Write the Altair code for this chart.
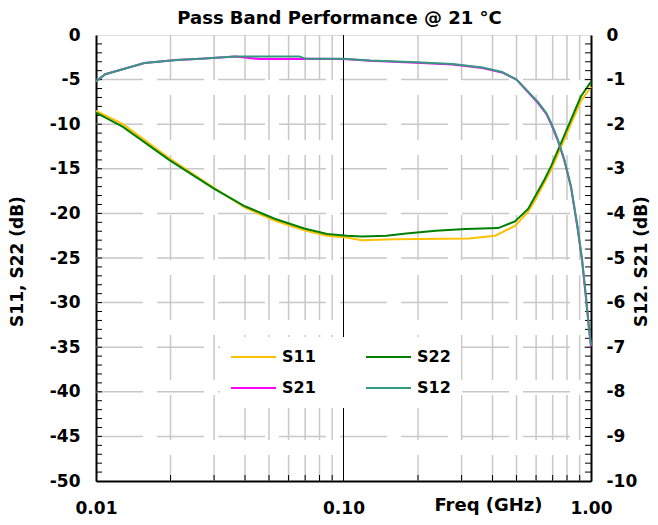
import altair as alt
import pandas as pd

FONT = "DejaVu Sans"

# ---- data ----
s11_f = [0.01, 0.01285, 0.01974, 0.02985, 0.03997, 0.0527, 0.0694, 0.0859, 0.1032, 0.1186,
         0.1606, 0.320, 0.410, 0.4928, 0.557, 0.592, 0.690, 0.830, 0.910, 0.991, 1.0]
s11_db = [-8.5, -10.0, -13.8, -17.1, -19.35, -20.8, -21.9, -22.5, -22.7, -23.0,
          -22.9, -22.8, -22.5, -21.4, -19.8, -18.6, -15.1, -10.0, -7.4, -6.0, -5.8]

s22_f = [0.01, 0.01285, 0.01974, 0.02985, 0.03997, 0.0527, 0.0694, 0.0859, 0.1032, 0.1186,
         0.1492, 0.1792, 0.2362, 0.311, 0.4215, 0.4928, 0.557, 0.592, 0.649, 0.690, 0.752,
         0.830, 0.910, 0.991, 1.0]
s22_db = [-8.7, -10.3, -14.0, -17.2, -19.2, -20.6, -21.7, -22.3, -22.5, -22.6,
          -22.5, -22.25, -21.95, -21.75, -21.65, -20.9, -19.5, -18.2, -16.2, -14.7, -12.3,
          -9.5, -6.9, -5.4, -5.2]

s21_f = [0.01, 0.0109, 0.0157, 0.0211, 0.0265, 0.0365, 0.046, 0.0664, 0.070, 0.10, 0.128,
         0.197, 0.276, 0.364, 0.437, 0.50, 0.54, 0.61, 0.66, 0.69, 0.734, 0.78, 0.83,
         0.882, 0.92, 0.953, 0.982, 1.0]
s21_db = [-1.04, -0.88, -0.63, -0.56, -0.53, -0.48, -0.54, -0.54, -0.53, -0.54, -0.58,
          -0.62, -0.66, -0.74, -0.84, -1.0, -1.2, -1.52, -1.77, -1.99, -2.36, -2.81, -3.41,
          -4.32, -5.05, -5.86, -6.6, -6.98]

s12_f = [0.01, 0.0109, 0.0157, 0.0211, 0.0265, 0.0365, 0.0664, 0.070, 0.10, 0.128,
         0.197, 0.276, 0.364, 0.437, 0.50, 0.54, 0.61, 0.66, 0.69, 0.734, 0.78, 0.83,
         0.882, 0.92, 0.953, 0.982, 1.0]
s12_db = [-1.04, -0.88, -0.63, -0.56, -0.53, -0.48, -0.48, -0.53, -0.53, -0.57,
          -0.61, -0.65, -0.73, -0.83, -1.0, -1.19, -1.5, -1.75, -1.97, -2.34, -2.79, -3.39,
          -4.3, -5.03, -5.84, -6.58, -6.96]

# legend lays entries out column by column: S11, S21 | S22, S12
series_order = ["S11", "S21", "S22", "S12"]
series_colors = ["#FFC000", "#FF00FF", "#008000", "#339980"]

x_ticks = [0.01, 0.1, 1.0]
x_minor = [0.02, 0.03, 0.04, 0.05, 0.06, 0.07, 0.08, 0.09,
           0.2, 0.3, 0.4, 0.5, 0.6, 0.7, 0.8, 0.9]
x_major_line = [0.1]
left_ticks = list(range(-50, 1, 5))
left_grid = [-45, -40, -35, -30, -25, -20, -15, -10, -5]
left_minor = list(range(-49, 0))
right_ticks = list(range(-10, 1))
right_minor = [round(-0.2 * i, 1) for i in range(1, 50)]

W, H = 495, 446

def df(f, v, name):
    return pd.DataFrame({"f": f, "db": v, "series": name})

x_scale = alt.Scale(type="log", domain=[0.01, 1.0], nice=False)
yl_scale = alt.Scale(domain=[-50, 0], nice=False, zero=False)
yr_scale = alt.Scale(domain=[-10, 0], nice=False, zero=False)
color_scale = alt.Scale(domain=series_order, range=series_colors)

grid_color = "#c8c8c8"

x_axis = alt.Axis(
    values=x_ticks, format=".2f", labelFont=FONT, labelFontSize=17, labelFontWeight="bold",
    labelColor="black", labelPadding=19, ticks=False, tickSize=0, domainColor="black",
    domainWidth=2, grid=False, labelFlush=False, labelOverlap=False,
    title="Freq (GHz)", titleFont=FONT, titleFontSize=18, titleFontWeight="bold",
    titleColor="black", titleX=392, titleY=29, titleAlign="center", titleBaseline="alphabetic",
)

yl_axis = alt.Axis(
    values=left_ticks, labelExpr="'' + datum.value", labelFont=FONT, labelFontSize=17,
    labelFontWeight="bold", labelColor="black", labelPadding=16, ticks=False, tickSize=0,
    domainColor="black", domainWidth=2, grid=False, labelFlush=False, labelOverlap=False,
    title="S11, S22 (dB)", titleFont=FONT, titleFontSize=17, titleFontWeight="bold",
    titleColor="black", titleX=-79, titleY=226, titleAngle=270, titleAlign="center",
    titleBaseline="middle",
)

yr_axis = alt.Axis(
    orient="right", values=right_ticks, labelExpr="'' + datum.value", labelFont=FONT,
    labelFontSize=17, labelFontWeight="bold", labelColor="black", labelPadding=15,
    ticks=False, tickSize=0, domainColor="black", domainWidth=2, grid=False,
    labelFlush=False, labelOverlap=False,
    title="S12. S21 (dB)", titleFont=FONT, titleFontSize=17, titleFontWeight="bold",
    titleColor="black", titleX=50, titleY=226, titleAngle=270, titleAlign="center",
    titleBaseline="middle",
)

legend = alt.Legend(
    orient="none", legendX=124, legendY=302, columns=2, title=None,
    symbolType="stroke", symbolSize=2025, symbolStrokeWidth=2, clipHeight=20,
    labelFont=FONT, labelFontSize=16, labelFontWeight="bold", labelColor="black",
    labelOffset=5, columnPadding=49, rowPadding=11, padding=10, fillColor="white",
)

X = lambda field: alt.X(field, scale=x_scale, axis=x_axis)
YL = lambda field: alt.Y(field, scale=yl_scale, axis=yl_axis)
YR = lambda field: alt.Y(field, scale=yr_scale, axis=yr_axis)

grid_v = alt.Chart(pd.DataFrame({"f": x_minor})).mark_rule(
    color=grid_color, strokeWidth=1.5, strokeDash=[45, 15]
).encode(x=X("f:Q"), y=alt.value(0), y2=alt.value(H))

grid_h = alt.Chart(pd.DataFrame({"db": left_grid})).mark_rule(
    color=grid_color, strokeWidth=1.5, strokeDash=[47, 14]
).encode(y=YL("db:Q"), x=alt.value(0), x2=alt.value(W))

major_v = alt.Chart(pd.DataFrame({"f": x_major_line})).mark_rule(
    color="black", strokeWidth=1
).encode(x=X("f:Q"), y=alt.value(0), y2=alt.value(H))

ticks_l = alt.Chart(pd.DataFrame({"db": left_minor})).mark_rule(
    color="black", strokeWidth=1
).encode(y=YL("db:Q"), x=alt.value(0), x2=alt.value(6))

ticks_b = alt.Chart(pd.DataFrame({"f": x_minor})).mark_rule(
    color="black", strokeWidth=1
).encode(x=X("f:Q"), y=alt.value(H - 6), y2=alt.value(H))

ticks_r = alt.Chart(pd.DataFrame({"db": right_minor})).mark_rule(
    color="black", strokeWidth=1
).encode(y=YR("db:Q"), x=alt.value(W - 6), x2=alt.value(W))


def line(data, right=False):
    return alt.Chart(data).mark_line(strokeWidth=2).encode(
        x=X("f:Q"),
        y=YR("db:Q") if right else YL("db:Q"),
        color=alt.Color("series:N", scale=color_scale, legend=legend),
    )

left = alt.layer(
    grid_v, grid_h, major_v, ticks_l, ticks_b,
    line(df(s11_f, s11_db, "S11")),
    line(df(s22_f, s22_db, "S22")),
)

right = alt.layer(
    ticks_r,
    line(df(s21_f, s21_db, "S21"), right=True),
    line(df(s12_f, s12_db, "S12"), right=True),
)

chart = alt.layer(left, right).resolve_scale(y="independent").properties(
    width=W, height=H,
    title=alt.TitleParams("Pass Band Performance @ 21 °C", font=FONT, fontSize=18,
                          fontWeight="bold", color="black", anchor="middle",
                          frame="group", offset=-2, dx=-4),
    autosize=alt.AutoSizeParams(type="none"),
    padding={"left": 88, "top": 27, "right": 59, "bottom": 36},
).configure_view(stroke="#a0a0a0", strokeWidth=1).configure(background="white")

chart.save("out.html", embed_options={"renderer": "svg", "actions": False})
